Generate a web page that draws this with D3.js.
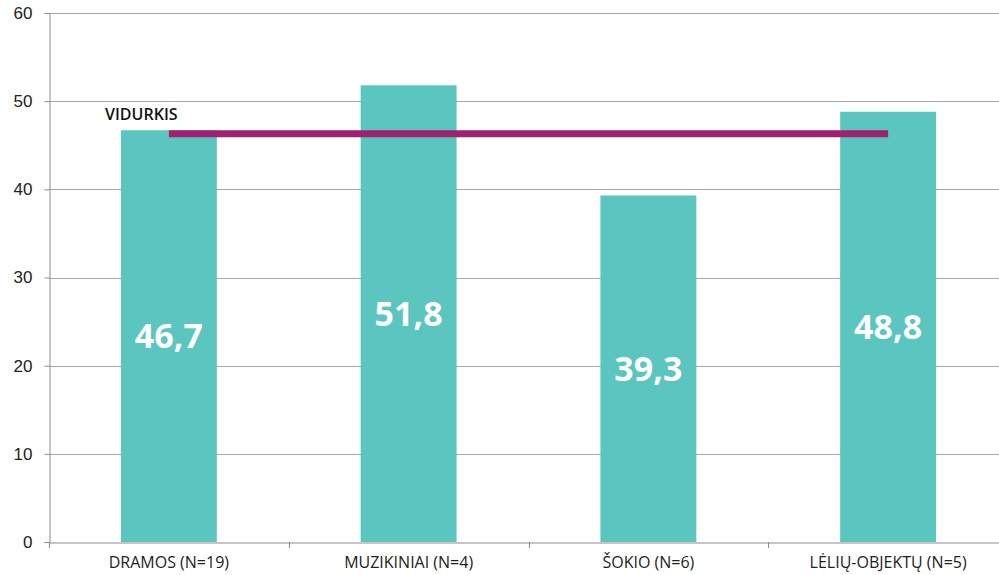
<!DOCTYPE html>
<html>
<head>
<meta charset="utf-8">
<script src="https://cdn.jsdelivr.net/npm/d3@7"></script>
<style>
  html, body { margin: 0; padding: 0; background: #fff; }
  svg { display: block; }
</style>
</head>
<body>
<svg id="chart" width="999" height="575"></svg>
<script>
// Category labels, bar values and the weighted average
const categories = ["DRAMOS (N=19)", "MUZIKINIAI (N=4)", "ŠOKIO (N=6)", "LĖLIŲ-OBJEKTŲ (N=5)"];
const values = [46.7, 51.8, 39.3, 48.8];
const average = 46.3;
const averageLabel = "VIDURKIS";
const yTicks = [0, 10, 20, 30, 40, 50, 60];

const svg = d3.select("#chart");
const margin = { left: 49, right: -9, top: 13, bottom: 33 };
const W = 999, H = 575;

const x = d3.scaleBand()
  .domain(categories)
  .range([margin.left, W - margin.right])
  .paddingInner(0.6)
  .paddingOuter(0.3);

const xOuter = d3.scaleBand()
  .domain(categories)
  .range([margin.left, W - margin.right]);

const y = d3.scaleLinear()
  .domain([0, 60])
  .range([H - margin.bottom, margin.top]);

// Horizontal gridlines
svg.append("g")
  .selectAll("line")
  .data(yTicks.filter(d => d > 0))
  .join("line")
  .attr("x1", margin.left)
  .attr("x2", W)
  .attr("y1", d => Math.round(y(d)) + 0.5)
  .attr("y2", d => Math.round(y(d)) + 0.5)
  .attr("stroke", "#a6a6a6")
  .attr("stroke-width", 1);

// Y axis
const yAxis = svg.append("g")
  .attr("transform", `translate(${margin.left + 0.5},0)`)
  .call(d3.axisLeft(y).tickValues(yTicks).tickSize(5).tickPadding(12));
yAxis.select(".domain").attr("stroke", "#8c8c8c");
yAxis.selectAll(".tick line").attr("stroke", "#8c8c8c");
yAxis.selectAll(".tick text")
  .attr("font-family", "Liberation Sans, Arial, sans-serif")
  .attr("font-size", 17)
  .attr("fill", "#222");

// Bars
svg.append("g")
  .selectAll("rect")
  .data(values)
  .join("rect")
  .attr("x", (d, i) => x(categories[i]))
  .attr("width", x.bandwidth())
  .attr("y", d => y(d))
  .attr("height", d => y(0) - y(d))
  .attr("fill", "#5bc5bf");

// X axis
const xAxis = svg.append("g")
  .attr("transform", `translate(0,${Math.round(y(0)) + 0.5})`)
  .call(d3.axisBottom(xOuter).tickSize(0).tickPadding(14));
xAxis.select(".domain").attr("stroke", "#8c8c8c");
xAxis.selectAll(".tick text")
  .attr("font-family", "Open Sans, sans-serif")
  .attr("font-size", 16)
  .attr("fill", "#222");

// Category separator ticks
svg.append("g")
  .selectAll("line")
  .data(categories)
  .join("line")
  .attr("x1", d => Math.round(xOuter(d)) + 0.5)
  .attr("x2", d => Math.round(xOuter(d)) + 0.5)
  .attr("y1", y(0))
  .attr("y2", y(0) + 6)
  .attr("stroke", "#8c8c8c");

// Value labels centred in each bar
svg.append("g")
  .selectAll("text")
  .data(values)
  .join("text")
  .attr("x", (d, i) => x(categories[i]) + x.bandwidth() / 2)
  .attr("y", d => y(d / 2))
  .attr("dy", "0.36em")
  .attr("text-anchor", "middle")
  .attr("font-family", "Open Sans, sans-serif")
  .attr("font-weight", 700)
  .attr("font-size", 34)
  .attr("fill", "#fff")
  .text(d => String(d).replace(".", ","));

// Average line from first to last bar centre
const cx0 = x(categories[0]) + x.bandwidth() / 2;
const cx1 = x(categories[categories.length - 1]) + x.bandwidth() / 2;
svg.append("line")
  .attr("x1", cx0)
  .attr("x2", cx1)
  .attr("y1", y(average))
  .attr("y2", y(average))
  .attr("stroke", "#a0216f")
  .attr("stroke-width", 7);

svg.append("text")
  .attr("x", 105)
  .attr("y", y(average) - 14)
  .attr("font-family", "Open Sans, sans-serif")
  .attr("font-weight", 600)
  .attr("font-size", 16)
  .attr("fill", "#111")
  .text(averageLabel);
</script>
</body>
</html>
